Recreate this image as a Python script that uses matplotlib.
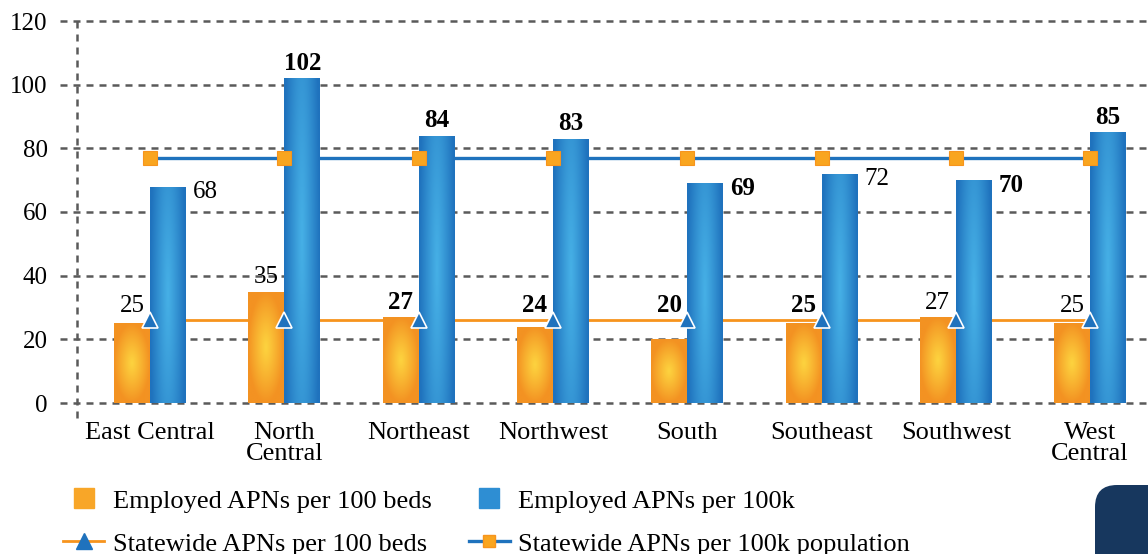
import numpy as np
import matplotlib
matplotlib.use("Agg")
import matplotlib.pyplot as plt
import matplotlib.colors as mcolors
from matplotlib.lines import Line2D
from matplotlib.patches import FancyBboxPatch

plt.rcParams['font.family'] = ['Liberation Serif', 'DejaVu Serif']

# Datos
regions = ['East Central', 'North\nCentral', 'Northeast', 'Northwest',
           'South', 'Southeast', 'Southwest', 'West\nCentral']
per_100_beds = [25, 35, 27, 24, 20, 25, 27, 25]
per_100k = [68, 102, 84, 83, 69, 72, 70, 85]
statewide_beds = 26
statewide_100k = 77
beds_bold = [False, False, True, True, True, True, False, False]
k_bold = [False, True, True, True, True, False, True, True]

ORANGE_IN, ORANGE_OUT = '#fdd33f', '#f39222'
BLUE_IN, BLUE_OUT = '#46b0e6', '#1f72bd'
GRID = '#5a5a5a'


def gradient_img(inner, outer, ky, n=80):
    yy, xx = np.mgrid[-1:1:n * 1j, -1:1:n * 1j]
    t = np.clip(np.sqrt(xx ** 2 + (ky * yy) ** 2), 0, 1) ** 1.1
    a = np.array(mcolors.to_rgb(inner))
    b = np.array(mcolors.to_rgb(outer))
    return a * (1 - t)[..., None] + b * t[..., None]


def gradient_bars(ax, bars, inner, outer, ky):
    img = gradient_img(inner, outer, ky)
    for b in bars:
        x0, y0 = b.get_x(), b.get_y()
        im = ax.imshow(img, extent=[x0, x0 + b.get_width(), y0, y0 + b.get_height()],
                       aspect='auto', zorder=2.5, interpolation='bilinear')
        im.set_clip_path(b)


fig = plt.figure(figsize=(11.48, 5.54), dpi=100)
ax = fig.add_axes([77 / 1148, 151 / 554, 1071 / 1148, 382 / 554])

x = np.arange(len(regions))
w = 0.268

# lineas estatales (debajo de las barras)
ax.plot(x, [statewide_beds] * len(x), color='#f7941d', lw=2.0, zorder=1.5)
ax.plot(x, [statewide_100k] * len(x), color='#1f72bd', lw=2.4, zorder=1.5)

b1 = ax.bar(x - w / 2, per_100_beds, w, color=ORANGE_OUT, zorder=2)
b2 = ax.bar(x + w / 2, per_100k, w, color=BLUE_OUT, zorder=2)
gradient_bars(ax, b1, ORANGE_IN, ORANGE_OUT, 1.0)
gradient_bars(ax, b2, BLUE_IN, BLUE_OUT, 0.45)

# marcadores
ax.plot(x, [statewide_beds] * len(x), ls='none', marker='^', ms=12,
        mfc='#1f72bd', mec='white', mew=1.2, zorder=5)
ax.plot(x, [statewide_100k] * len(x), ls='none', marker='s', ms=9.5,
        mfc='#f9a51f', mec='#f7941d', mew=0.8, zorder=5)

# etiquetas de valores (las naranjas quedan sobre la linea estatal)
for i, v in enumerate(per_100_beds):
    ax.annotate(str(v), (x[i] - w / 2, max(v, statewide_beds)), xytext=(0, 6),
                textcoords='offset points', ha='center', va='baseline', fontsize=18,
                fontweight='bold' if beds_bold[i] else 'normal', zorder=6)
for i, v in enumerate(per_100k):
    fw = 'bold' if k_bold[i] else 'normal'
    if v < statewide_100k:
        ax.annotate(str(v), (x[i] + w, v), xytext=(5, -4), textcoords='offset points',
                    ha='left', va='center', fontsize=18, fontweight=fw, zorder=6)
    else:
        ax.annotate(str(v), (x[i] + w / 2, v), xytext=(0, 6), textcoords='offset points',
                    ha='center', va='baseline', fontsize=18, fontweight=fw, zorder=6)

ax.set_xlim(-0.5436, 7.431)
ax.set_ylim(0, 120)
ax.set_yticks(range(0, 121, 20))
ax.set_xticks(x)
ax.set_xticklabels(regions, fontsize=19, linespacing=0.93)
ax.tick_params(axis='y', length=0, pad=21, labelsize=18)
ax.tick_params(axis='x', length=0, pad=14)
for s in ax.spines.values():
    s.set_visible(False)

dash = (0, (2.8, 2.4))
for yv in range(0, 121, 20):
    ax.axhline(yv, xmin=-0.016, xmax=1, color=GRID, lw=1.8, ls=dash, clip_on=False, zorder=0.5)
ax.plot([0, 0], [-0.04, 1], transform=ax.transAxes, color=GRID, lw=1.8, ls=dash,
        clip_on=False, zorder=0.5)

# leyenda
handles = [
    Line2D([], [], ls='none', marker='s', ms=15, mfc='#f8a628', mec='#f8a628'),
    Line2D([], [], color='#f7941d', lw=2.0, marker='^', ms=11, mfc='#1f72bd', mec='#1f72bd'),
    Line2D([], [], ls='none', marker='s', ms=15, mfc='#2e8ed3', mec='#2e8ed3'),
    Line2D([], [], color='#1f72bd', lw=2.4, marker='s', ms=9, mfc='#f9a51f', mec='#f7941d'),
]
labels = ['Employed APNs per 100 beds', 'Statewide APNs per 100 beds',
          'Employed APNs per 100k', 'Statewide APNs per 100k population']
fig.legend(handles, labels, ncol=2, loc='upper left', bbox_to_anchor=(50 / 1148, 1 - 476 / 554),
           frameon=False, fontsize=19, borderpad=0, handlelength=1.55, handletextpad=0.33,
           columnspacing=1.4, labelspacing=0.74, numpoints=1)

corner = FancyBboxPatch((1095, -60), 200, 60 + 69, boxstyle='round,pad=0,rounding_size=22',
                        transform=None, facecolor='#17375e', edgecolor='none')
fig.add_artist(corner)

fig.savefig('out.png', dpi=100)
